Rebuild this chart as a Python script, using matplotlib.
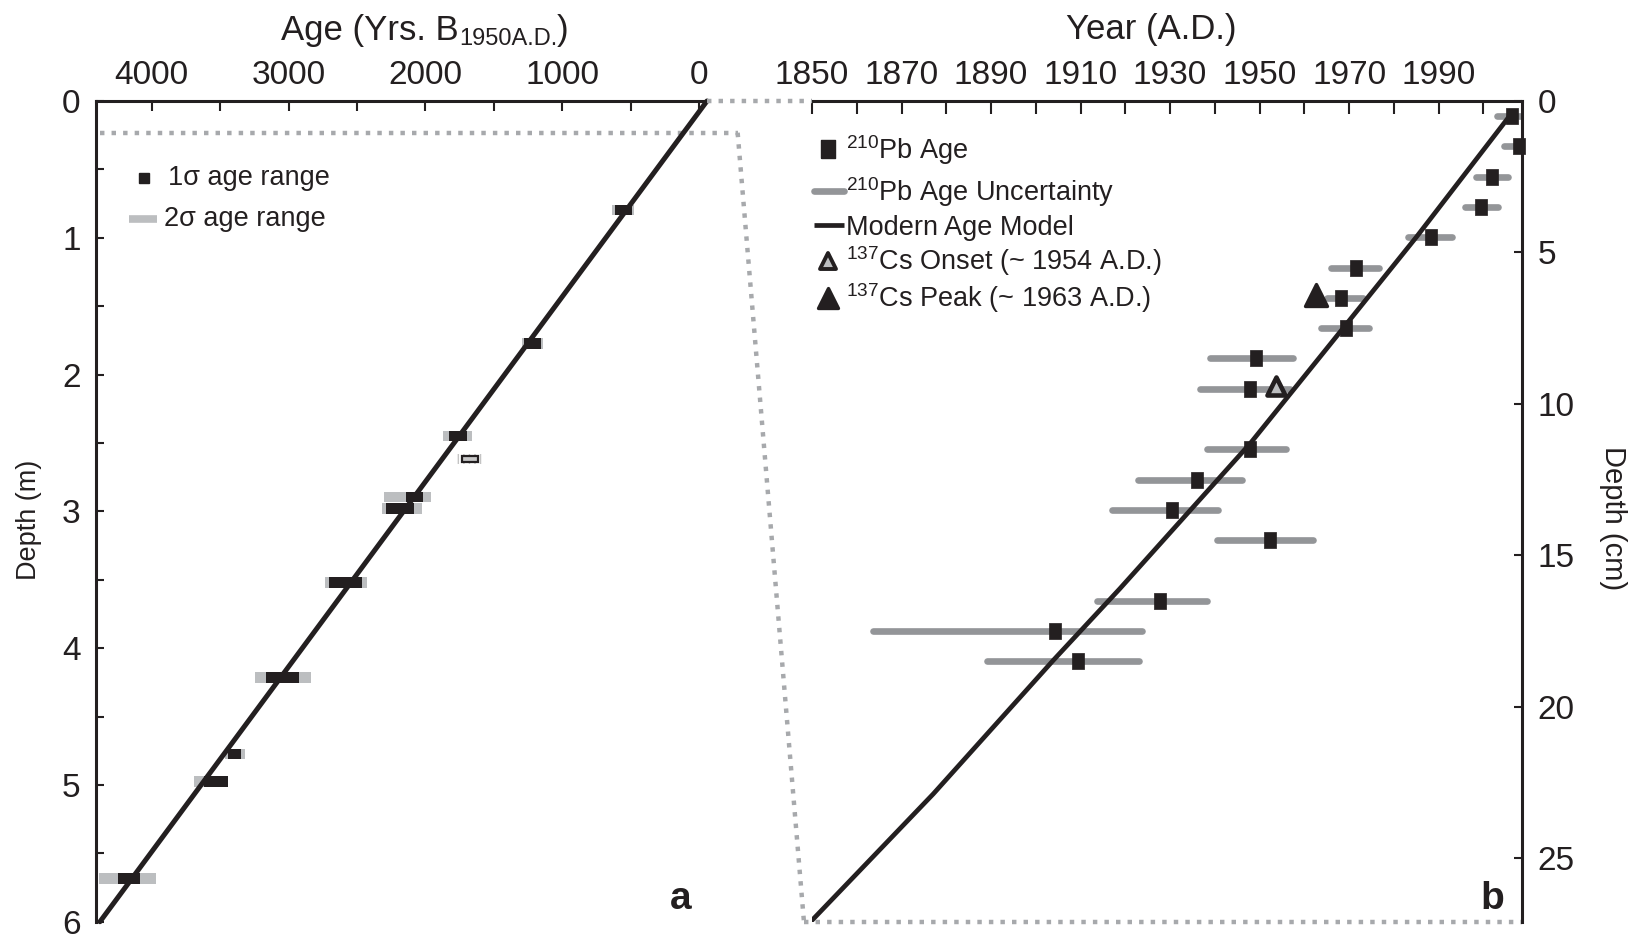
import matplotlib
matplotlib.use("Agg")
import matplotlib.pyplot as plt
from matplotlib.patches import ConnectionPatch
from matplotlib.lines import Line2D
from matplotlib.markers import MarkerStyle
from matplotlib.ticker import MultipleLocator

plt.rcParams['font.family'] = ['Liberation Sans', 'DejaVu Sans']
plt.rcParams['mathtext.fontset'] = 'custom'
plt.rcParams['mathtext.rm'] = 'Liberation Sans'
plt.rcParams['mathtext.it'] = 'Liberation Sans:italic'
plt.rcParams['mathtext.bf'] = 'Liberation Sans:bold'
plt.rcParams['hatch.linewidth'] = 1.0

BLACK = '#231f20'
GRAY2S = '#bcbec0'
GRAYPB = '#939598'
DOT = '#a7a9ac'

# ---------------- panel a : radiocarbon ages ----------------
c14_depth_m = [0.797, 1.772, 2.448, 2.618, 2.894, 2.979, 3.522, 4.215, 4.775, 4.977, 5.684]
c14_1s_old = [614, 1277, 1825, 1730, 2142, 2288, 2704, 3165, 3445, 3616, 4249]
c14_1s_young = [492, 1155, 1698, 1613, 2015, 2081, 2465, 2921, 3350, 3445, 4086]
c14_2s_old = [634, 1292, 1869, 1791, 2302, 2315, 2734, 3245, 3464, 3691, 4385]
c14_2s_young = [475, 1138, 1657, 1586, 1961, 2027, 2429, 2838, 3318, 3440, 3971]
c14_excluded = [False, False, False, True, False, False, False, False, False, False, False]
age_model_depth_m = [0.0, 6.0]
age_model_bp = [-58, 4378]
age_ticks = [4000, 3000, 2000, 1000, 0]
age_ticklabels = ['4000', '3000', '2000', '1000', '0']
depth_m_ticks = [0, 1, 2, 3, 4, 5, 6]
zoom_depth_m = 0.232

# ---------------- panel b : 210Pb / 137Cs ----------------
pb_depth_cm = [0.5, 1.5, 2.5, 3.5, 4.5, 5.5, 6.5, 7.5, 8.5, 9.5, 11.5, 12.5, 13.5, 14.5, 16.5, 17.5, 18.5]
pb_year = [2006.4, 2008.0, 2002.0, 1999.4, 1988.3, 1971.6, 1968.3, 1969.2, 1949.1, 1947.9,
           1947.9, 1936.1, 1930.4, 1952.3, 1927.7, 1904.4, 1909.4]
pb_lo = [2003.1, 2004.5, 1998.4, 1996.0, 1983.1, 1965.9, 1965.0, 1963.7, 1938.9, 1936.7,
         1938.3, 1922.8, 1917.1, 1940.4, 1913.6, 1863.7, 1889.0]
pb_hi = [2010.0, 2010.5, 2005.6, 2003.2, 1993.1, 1976.7, 1973.0, 1974.5, 1957.5, 1956.9,
         1955.9, 1946.1, 1940.8, 1962.0, 1938.3, 1923.7, 1923.1]
model_year = [2006.3, 1985.1, 1966.5, 1947.9, 1918.8, 1903.9, 1877.1, 1849.9]
model_depth_cm = [0.41, 4.48, 7.90, 11.31, 16.10, 18.47, 22.88, 27.07]
cs_onset_year, cs_onset_depth = 1953.6, 9.4
cs_peak_year, cs_peak_depth = 1962.5, 6.4
year_major = [1850, 1870, 1890, 1910, 1930, 1950, 1970, 1990]
depth_cm_ticks = [0, 5, 10, 15, 20, 25]

W, H = 1642, 936
fig = plt.figure(figsize=(W / 100, H / 100), dpi=100)


def box(x0, y0, x1, y1):
    return [x0 / W, 1 - y1 / H, (x1 - x0) / W, (y1 - y0) / H]


def f(x, y):
    return (x / W, 1 - y / H)


ax1 = fig.add_axes(box(96, 101, 707, 921.7))
ax2 = fig.add_axes(box(812, 101, 1522.3, 921.7))

# ---- axis 1 styling ----
ax1.set_xlim(4407, -58)
ax1.set_ylim(6, 0)
for s in ['right', 'bottom']:
    ax1.spines[s].set_visible(False)
for s in ['left', 'top']:
    ax1.spines[s].set_linewidth(2.2)
    ax1.spines[s].set_color(BLACK)
ax1.xaxis.set_ticks_position('top')
ax1.set_xticks(age_ticks)
ax1.set_xticklabels(age_ticklabels)
ax1.xaxis.set_minor_locator(MultipleLocator(500))
ax1.tick_params(axis='x', which='both', direction='in', length=7, width=1.5,
                pad=7, labelsize=24, color=BLACK, labelcolor=BLACK,
                top=True, bottom=False, labeltop=True, labelbottom=False)
ax1.set_yticks(depth_m_ticks)
ax1.yaxis.set_minor_locator(MultipleLocator(0.5))
ax1.tick_params(axis='y', which='both', direction='in', length=6, width=1.5,
                pad=11, labelsize=24, color=BLACK, labelcolor=BLACK,
                left=True, right=False)

# ---- axis 2 styling ----
ax2.set_xlim(1850, 2008.7)
ax2.set_ylim(27.1, 0)
for s in ['left', 'bottom']:
    ax2.spines[s].set_visible(False)
for s in ['right', 'top']:
    ax2.spines[s].set_linewidth(2.2)
    ax2.spines[s].set_color(BLACK)
ax2.xaxis.set_ticks_position('top')
ax2.set_xticks(year_major)
ax2.xaxis.set_minor_locator(MultipleLocator(10))
ax2.tick_params(axis='x', which='both', direction='in', length=9, width=1.5,
                pad=7, labelsize=24, color=BLACK, labelcolor=BLACK,
                top=True, bottom=False, labeltop=True, labelbottom=False)
ax2.yaxis.tick_right()
ax2.set_yticks(depth_cm_ticks)
ax2.tick_params(axis='y', which='both', direction='in', length=6, width=1.5,
                pad=11, labelsize=24, color=BLACK, labelcolor=BLACK,
                left=False, right=True, labelleft=False, labelright=True)

# ---- panel a data ----
bar_h = 0.078
for d, o1, y1, o2, y2, ex in zip(c14_depth_m, c14_1s_old, c14_1s_young,
                                  c14_2s_old, c14_2s_young, c14_excluded):
    if ex:
        ax1.barh(d, o2 - y2, left=y2, height=0.07, color='none', edgecolor='#c4c4c4',
                 hatch='|||', linewidth=0, zorder=2)
        ax1.barh(d, o1 - y1, left=y1, height=0.042, color='#c8c8c8', edgecolor=BLACK,
                 linewidth=1.6, zorder=4)
    else:
        ax1.barh(d, o2 - y2, left=y2, height=bar_h, color=GRAY2S, linewidth=0, zorder=2)
        ax1.barh(d, o1 - y1, left=y1, height=bar_h, color=BLACK, linewidth=0, zorder=4)
ax1.plot(age_model_bp, age_model_depth_m, color=BLACK, lw=3.6, zorder=3,
         solid_capstyle='round', clip_on=False)

# ---- panel b data ----
rect = [(-0.39, -0.5), (0.39, -0.5), (0.39, 0.5), (-0.39, 0.5), (-0.39, -0.5)]
tri = MarkerStyle('^', joinstyle='round')
ax2.hlines(pb_depth_cm, pb_lo, pb_hi, color=GRAYPB, lw=4.8, capstyle='round', zorder=2)
ax2.plot(model_year, model_depth_cm, color=BLACK, lw=3.4, zorder=3, solid_capstyle='round')
ax2.plot(pb_year, pb_depth_cm, linestyle='none', marker=rect, markersize=11.5,
         markerfacecolor=BLACK, markeredgecolor=BLACK, markeredgewidth=0.5,
         zorder=5, clip_on=False)
ax2.plot([cs_peak_year], [cs_peak_depth], linestyle='none', marker=tri, markersize=16,
         markerfacecolor=BLACK, markeredgecolor=BLACK, markeredgewidth=2.4, zorder=6)
ax2.plot([cs_onset_year], [cs_onset_depth], linestyle='none', marker=tri, markersize=13,
         markerfacecolor=GRAY2S, markeredgecolor=BLACK, markeredgewidth=3.3, zorder=6)

# ---- connecting dotted lines ----
dot_line = dict(color=DOT, lw=3.2, linestyle=(0, (1, 1.6)), dash_capstyle='butt')
dot_patch = dict(color=DOT, lw=3.2, linestyle=(0, (1, 1.6)), capstyle='butt')
con_top = ConnectionPatch(xyA=(-58, 0), coordsA=ax1.transData,
                          xyB=(1850, 0), coordsB=ax2.transData, zorder=1, **dot_patch)
fig.add_artist(con_top)
ax1.plot([4380, -282], [zoom_depth_m, zoom_depth_m], clip_on=False, zorder=1, **dot_line)
con_diag = ConnectionPatch(xyA=(-282, zoom_depth_m), coordsA=ax1.transData,
                           xyB=(1848.2, 27.1), coordsB=ax2.transData, zorder=1, **dot_patch)
fig.add_artist(con_diag)
ax2.plot([1848.2, 2008.7], [27.1, 27.1], clip_on=False, zorder=1, **dot_line)

# ---- legends (panel a) ----
fig.add_artist(Line2D([f(143.5, 178)[0]], [f(143.5, 178)[1]], transform=fig.transFigure,
                      linestyle='none', marker='s', markersize=7,
                      markerfacecolor=BLACK, markeredgecolor=BLACK))
fig.add_artist(Line2D([f(129, 219)[0], f(157, 219)[0]], [f(129, 219)[1], f(157, 219)[1]],
                      transform=fig.transFigure, color=GRAY2S, lw=5.5, solid_capstyle='butt'))
fig.text(*f(167.5, 178), '1σ age range', fontsize=19.5, va='center', ha='left', color=BLACK)
fig.text(*f(164, 219), '2σ age range', fontsize=19.5, va='center', ha='left', color=BLACK)

# ---- legends (panel b) ----
lx = 828
fig.add_artist(Line2D([f(lx, 148.7)[0]], [f(lx, 148.7)[1]], transform=fig.transFigure,
                      linestyle='none', marker=rect, markersize=13,
                      markerfacecolor=BLACK, markeredgecolor=BLACK))
fig.add_artist(Line2D([f(813.7, 190.6)[0], f(844, 190.6)[0]], [f(0, 190.6)[1]] * 2,
                      transform=fig.transFigure, color=GRAYPB, lw=4.8, solid_capstyle='round'))
fig.add_artist(Line2D([f(813.7, 225.1)[0], f(844, 225.1)[0]], [f(0, 225.1)[1]] * 2,
                      transform=fig.transFigure, color=BLACK, lw=3.4, solid_capstyle='butt'))
fig.add_artist(Line2D([f(lx, 261)[0]], [f(lx, 261)[1]], transform=fig.transFigure,
                      linestyle='none', marker=tri, markersize=11,
                      markerfacecolor=GRAY2S, markeredgecolor=BLACK, markeredgewidth=2.8))
fig.add_artist(Line2D([f(lx, 298)[0]], [f(lx, 298)[1]], transform=fig.transFigure,
                      linestyle='none', marker=tri, markersize=15,
                      markerfacecolor=BLACK, markeredgecolor=BLACK, markeredgewidth=2.4))
leg_texts = [(148.7, r'$^{\mathregular{210}}$Pb Age'),
             (190.6, r'$^{\mathregular{210}}$Pb Age Uncertainty'),
             (225.1, 'Modern Age Model'),
             (259.7, r'$^{\mathregular{137}}$Cs Onset (~ 1954 A.D.)'),
             (297.4, r'$^{\mathregular{137}}$Cs Peak (~ 1963 A.D.)')]
for yy, tx in leg_texts:
    fig.text(*f(846, yy + 10), tx, fontsize=19.5, va='baseline', ha='left', color=BLACK)

# ---- titles and axis labels ----
renderer = fig.canvas.get_renderer()
title_parts = [('Age (Yrs. B', 25, 0), ('1950A.D.', 17, 5), (')', 25, 0)]
title_texts = [fig.text(0, 0, s, fontsize=fs, ha='left', va='baseline', color=BLACK)
               for s, fs, _ in title_parts]
widths = [t.get_window_extent(renderer).width for t in title_texts]
xcur = 425 - sum(widths) / 2
for t, w, (_, _, dy) in zip(title_texts, widths, title_parts):
    t.set_position(f(xcur, 40 + dy))
    xcur += w
fig.text(*f(1151, 39), 'Year (A.D.)', fontsize=25, ha='center', va='baseline', color=BLACK)
fig.text(*f(29, 520), 'Depth (m)', fontsize=19.5, rotation=90, ha='center', va='center',
         color=BLACK)
fig.text(*f(1613, 518), 'Depth (cm)', fontsize=21, rotation=270, ha='center', va='center',
         color=BLACK)
fig.text(*f(681, 909), 'a', fontsize=28, fontweight='bold', ha='center', va='baseline',
         color=BLACK)
fig.text(*f(1492, 909), 'b', fontsize=28, fontweight='bold', ha='center', va='baseline',
         color=BLACK)

fig.savefig('out.png', dpi=100)
